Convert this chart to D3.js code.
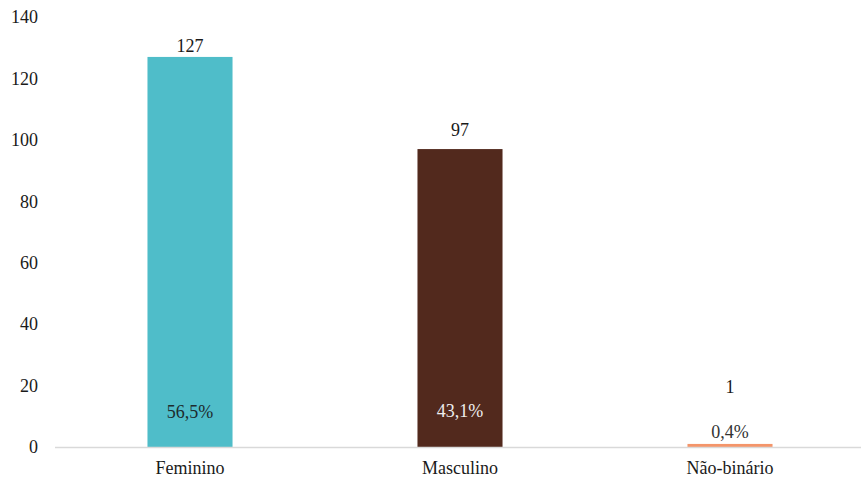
<!DOCTYPE html>
<html>
<head>
<meta charset="utf-8">
<script src="https://cdn.jsdelivr.net/npm/d3@7"></script>
<style>
  body { margin: 0; background: #fff; }
</style>
</head>
<body>
<svg id="chart" width="861" height="479"></svg>
<script>
const categories = ["Feminino", "Masculino", "Não-binário"];
const values = [127, 97, 1];
const percentLabels = ["56,5%", "43,1%", "0,4%"];
const yTicks = [0, 20, 40, 60, 80, 100, 120, 140];
const colors = ["#4FBDC9", "#52291D", "#F4956A"];
const percentColors = ["#1d2b2d", "#eeeeee", "#333333"];

const W = 861, H = 479;
const FONT = "'Liberation Serif'";
const margin = { left: 55, right: -4, top: 17, bottom: 32 };
const svg = d3.select("#chart");

const x = d3.scaleBand()
  .domain(categories)
  .range([margin.left, W - margin.right])
  .paddingInner(0.685)
  .paddingOuter(0.3425);

const y = d3.scaleLinear()
  .domain([0, 140])
  .range([H - margin.bottom, margin.top]);

// y axis labels (no line, no ticks)
const yAxis = d3.axisLeft(y).tickValues(yTicks).tickSize(0).tickPadding(0);
const gy = svg.append("g").attr("transform", "translate(38,0)").call(yAxis);
gy.select(".domain").remove();
gy.selectAll("text")
  .style("font-family", FONT).style("font-size", "18px")
  .attr("fill", "#1a1a1a");

// bars
svg.append("g").selectAll("rect")
  .data(values)
  .join("rect")
  .attr("x", (d, i) => x(categories[i]))
  .attr("width", x.bandwidth())
  .attr("y", d => y(d))
  .attr("height", d => y(0) - y(d))
  .attr("fill", (d, i) => colors[i]);

// baseline
svg.append("line")
  .attr("x1", margin.left).attr("x2", W)
  .attr("y1", y(0) + 0.5).attr("y2", y(0) + 0.5)
  .attr("stroke", "#d9d9d9").attr("stroke-width", 1.5);

// x axis labels
const xAxis = d3.axisBottom(x).tickSize(0).tickPadding(14);
const gx = svg.append("g").attr("transform", `translate(0,${y(0)})`).call(xAxis);
gx.select(".domain").remove();
gx.selectAll("text")
  .style("font-family", FONT).style("font-size", "18px")
  .attr("fill", "#1a1a1a");

// value labels above bars
const valueLabelGap = [11, 19, 57];
svg.append("g").selectAll("text")
  .data(values)
  .join("text")
  .attr("x", (d, i) => x(categories[i]) + x.bandwidth() / 2)
  .attr("y", (d, i) => y(d) - valueLabelGap[i])
  .attr("dy", "0.35em")
  .attr("text-anchor", "middle")
  .style("font-family", FONT).style("font-size", "18px")
  .attr("fill", "#1a1a1a")
  .text(d => d);

// percentage labels near base
const percentLift = [35, 36, 15];
svg.append("g").selectAll("text")
  .data(percentLabels)
  .join("text")
  .attr("x", (d, i) => x(categories[i]) + x.bandwidth() / 2)
  .attr("y", (d, i) => y(0) - percentLift[i])
  .attr("dy", "0.35em")
  .attr("text-anchor", "middle")
  .style("font-family", FONT).style("font-size", "18px")
  .attr("fill", (d, i) => percentColors[i])
  .text(d => d);
</script>
</body>
</html>
